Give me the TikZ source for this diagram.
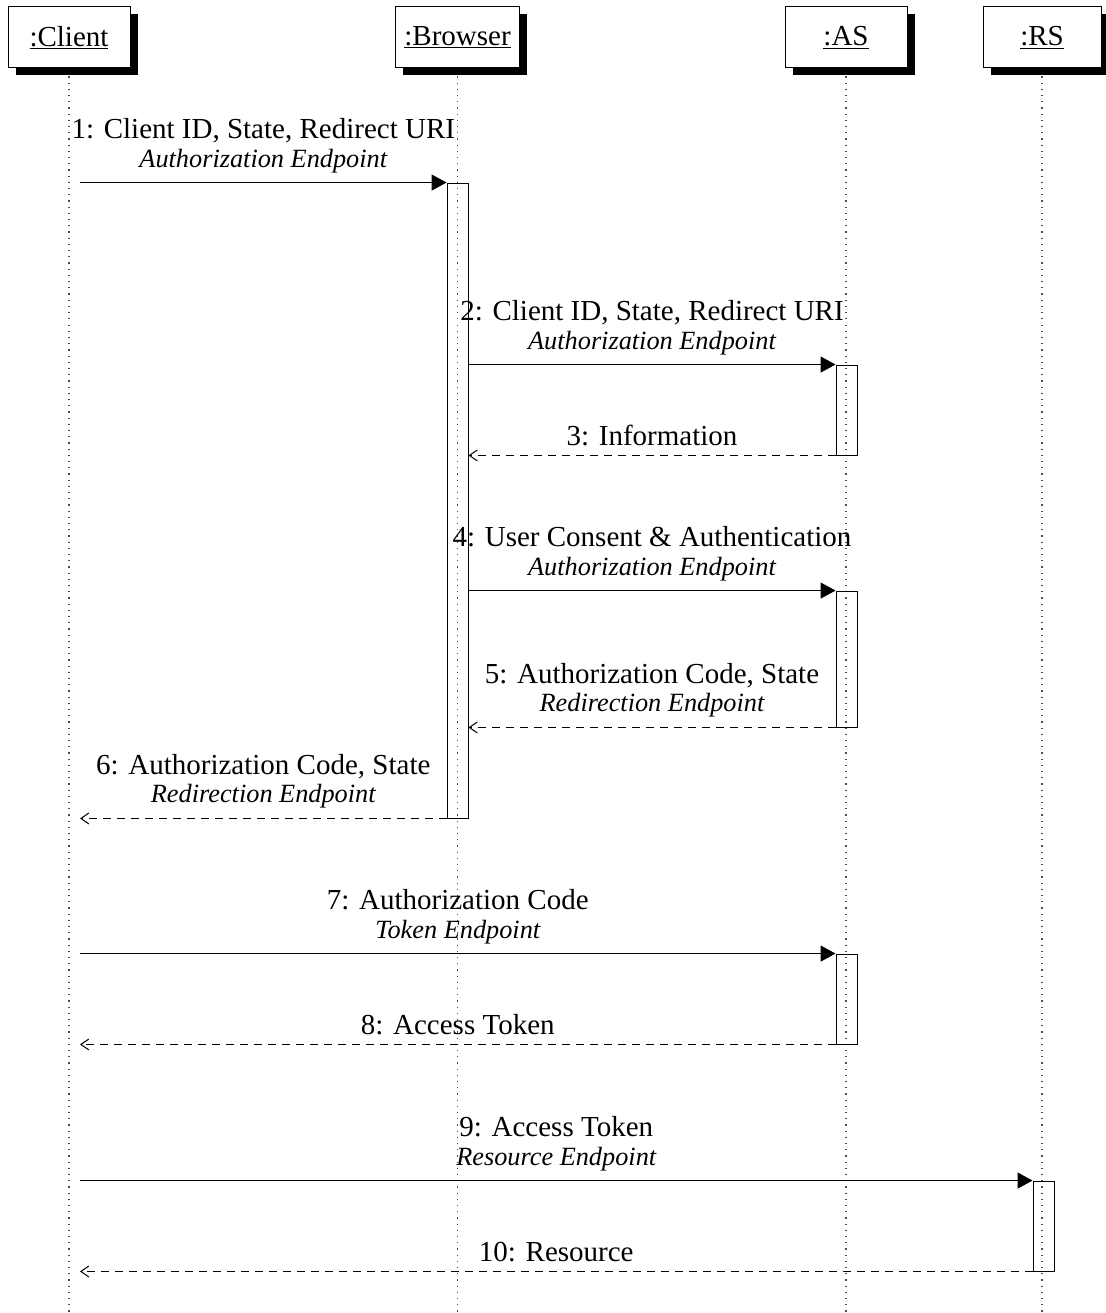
\documentclass[tikz,border=0pt]{standalone}
\usepackage{fontspec}
\setmainfont{Liberation Serif}
\usetikzlibrary{arrows.meta,shadows}
\newcommand\lblfont{\fontsize{29}{34}\selectfont}
\newcommand\myitfont{\fontsize{26.3}{30}\selectfont\itshape}
\begin{document}
\begin{tikzpicture}[x=1pt,y=-1pt,
  inst/.style={draw, line width=1pt, fill=white, minimum height=61pt, inner sep=0pt,
    font=\lblfont, drop shadow={shadow xshift=7.5pt, shadow yshift=-7.5pt, opacity=1, fill=black}},
  lifeline/.style={draw=black!70, line width=1.2pt, dash pattern=on 1.2pt off 5pt},
  activation/.style={draw, line width=0.9pt, minimum width=21pt, inner sep=0pt},
  call/.style={draw, line width=1.2pt, -{Triangle[length=15pt,width=16pt]}},
  ret/.style={draw, line width=1.1pt, dash pattern=on 8pt off 6pt, -{Straight Barb[length=8pt,width=11pt,line width=1pt]}},
  mainlbl/.style={anchor=base, font=\lblfont, inner sep=0pt, yshift=44pt},
  itlbl/.style={anchor=base, font=\myitfont, inner sep=0pt, yshift=15.5pt},
  onelbl/.style={anchor=base, font=\lblfont, inner sep=0pt, yshift=9.5pt}]
\useasboundingbox (0,0) rectangle (1105,1313);

% instances
\node[inst, minimum width=122pt] (client) at (69,37.5) {\underline{:Client}};
\node[inst, minimum width=124pt] (browser) at (457.5,37.5) {\underline{:Browser}};
\node[inst, minimum width=122pt] (as) at (846,37.5) {\underline{:AS}};
\node[inst, minimum width=118pt] (rs) at (1042,37.5) {\underline{:RS}};

% lifelines
\coordinate (bottom) at (0,1313);
\draw[lifeline] ([yshift=-8pt]client.south) -- (client.south |- bottom);
\draw[lifeline] ([yshift=-8pt]browser.south) -- (browser.south |- bottom);
\draw[lifeline] ([yshift=-8pt]as.south) -- (as.south |- bottom);
\draw[lifeline] ([yshift=-8pt]rs.south) -- (rs.south |- bottom);

% activations
\node[activation, minimum height=635pt] (actB) at (457.5,500.5) {};
\node[activation, minimum height=90pt] (actAS1) at (846.5,410) {};
\node[activation, minimum height=136pt] (actAS2) at (846.5,659) {};
\node[activation, minimum height=90pt] (actAS3) at (846.5,999) {};
\node[activation, minimum height=90pt] (actRS) at (1043.5,1226) {};

\coordinate (cl) at (80,0);

% messages
\draw[call] (cl |- actB.north west) -- (actB.north west)
  node[midway, mainlbl] {1: Client ID, State, Redirect URI}
  node[midway, itlbl] {Authorization Endpoint};
\draw[call] (actB.east |- actAS1.north) -- (actAS1.north west)
  node[midway, mainlbl] {2: Client ID, State, Redirect URI}
  node[midway, itlbl] {Authorization Endpoint};
\draw[ret] (actAS1.south west) -- (actB.east |- actAS1.south)
  node[midway, onelbl] {3: Information};
\draw[call] (actB.east |- actAS2.north) -- (actAS2.north west)
  node[midway, mainlbl] {4: User Consent \& Authentication}
  node[midway, itlbl] {Authorization Endpoint};
\draw[ret] (actAS2.south west) -- (actB.east |- actAS2.south)
  node[midway, mainlbl] {5: Authorization Code, State}
  node[midway, itlbl] {Redirection Endpoint};
\draw[ret] (actB.south west) -- (cl |- actB.south west)
  node[midway, mainlbl] {6: Authorization Code, State}
  node[midway, itlbl] {Redirection Endpoint};
\draw[call] (cl |- actAS3.north west) -- (actAS3.north west)
  node[midway, mainlbl] {7: Authorization Code}
  node[midway, itlbl] {Token Endpoint};
\draw[ret] (actAS3.south west) -- (cl |- actAS3.south west)
  node[midway, onelbl] {8: Access Token};
\draw[call] (cl |- actRS.north west) -- (actRS.north west)
  node[midway, mainlbl] {9: Access Token}
  node[midway, itlbl] {Resource Endpoint};
\draw[ret] (actRS.south west) -- (cl |- actRS.south west)
  node[midway, onelbl] {10: Resource};
\end{tikzpicture}
\end{document}
